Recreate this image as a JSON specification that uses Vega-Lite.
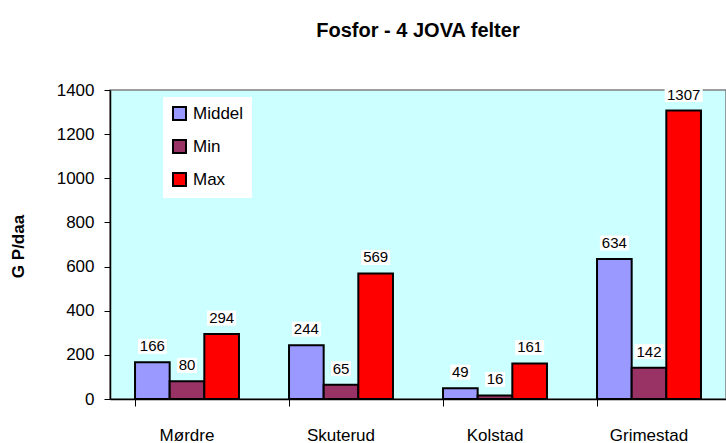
{
  "$schema": "https://vega.github.io/schema/vega-lite/v6.json",
  "autosize": {"type": "none"},
  "width": 616,
  "height": 309,
  "padding": {"left": 110, "top": 90, "right": 0, "bottom": 44},
  "background": "white",
  "config": {
    "font": "Liberation Sans",
    "view": {"fill": "#CCFFFF", "stroke": "#808080", "strokeWidth": 1.5},
    "title": {"fontSize": 20, "fontWeight": "bold", "color": "black", "anchor": "middle", "offset": 40}
  },
  "title": "Fosfor - 4 JOVA felter",
  "data": {
    "values": [
      {"site": "Mørdre", "series": "Middel", "value": 166},
      {"site": "Mørdre", "series": "Min", "value": 80},
      {"site": "Mørdre", "series": "Max", "value": 294},
      {"site": "Skuterud", "series": "Middel", "value": 244},
      {"site": "Skuterud", "series": "Min", "value": 65},
      {"site": "Skuterud", "series": "Max", "value": 569},
      {"site": "Kolstad", "series": "Middel", "value": 49},
      {"site": "Kolstad", "series": "Min", "value": 16},
      {"site": "Kolstad", "series": "Max", "value": 161},
      {"site": "Grimestad", "series": "Middel", "value": 634},
      {"site": "Grimestad", "series": "Min", "value": 142},
      {"site": "Grimestad", "series": "Max", "value": 1307}
    ]
  },
  "encoding": {
    "x": {
      "field": "site", "type": "nominal", "sort": null,
      "scale": {"paddingInner": 0.325, "paddingOuter": 0.1625},
      "axis": {
        "title": null, "labelAngle": 0, "labelFontSize": 17, "labelColor": "black",
        "domainColor": "black", "domainWidth": 1.5, "tickColor": "black", "tickSize": 7,
        "bandPosition": 0, "labelPadding": 21, "grid": false
      }
    },
    "xOffset": {"field": "series", "type": "nominal", "sort": ["Middel", "Min", "Max"], "scale": {"paddingInner": 0, "paddingOuter": 0}},
    "y": {
      "field": "value", "type": "quantitative",
      "scale": {"domain": [0, 1400], "nice": false},
      "axis": {
        "title": "G P/daa", "titleFontSize": 17, "titleFontWeight": "bold", "titleColor": "black",
        "titleX": -92, "titleY": 156, "titleAngle": -90, "titleBaseline": "middle", "titleAlign": "center",
        "values": [0, 200, 400, 600, 800, 1000, 1200, 1400], "format": "d",
        "labelFontSize": 17, "labelColor": "black", "labelPadding": 10,
        "domainColor": "black", "domainWidth": 1.5, "tickColor": "black", "tickSize": 6, "grid": false
      }
    }
  },
  "layer": [
    {
      "mark": {"type": "bar", "stroke": "black", "strokeWidth": 2},
      "encoding": {
        "color": {
          "field": "series", "type": "nominal",
          "scale": {"domain": ["Middel", "Min", "Max"], "range": ["#9999FF", "#993366", "#FF0000"]},
          "legend": {
            "title": null, "orient": "none", "legendX": 53, "legendY": 7,
            "fillColor": "white", "padding": 8, "symbolType": "square", "symbolSize": 169,
            "symbolStrokeColor": "black", "symbolStrokeWidth": 2, "symbolOpacity": 1,
            "labelFontSize": 17, "labelColor": "black", "labelOffset": 5, "rowPadding": 12
          }
        }
      }
    },
    {
      "mark": {"type": "point", "filled": true, "fill": "white", "opacity": 1, "strokeWidth": 0, "yOffset": -16},
      "encoding": {
        "shape": {
          "condition": [
            {"test": "datum.value >= 1000", "value": "M-1,-0.395H1V0.395H-1Z"},
            {"test": "datum.value < 100", "value": "M-1,-0.75H1V0.75H-1Z"}
          ],
          "value": "M-1,-0.517H1V0.517H-1Z"
        },
        "size": {
          "condition": [
            {"test": "datum.value >= 1000", "value": 1444},
            {"test": "datum.value < 100", "value": 400}
          ],
          "value": 841
        }
      }
    },
    {
      "mark": {"type": "text", "fontSize": 15, "color": "black", "baseline": "middle", "yOffset": -16},
      "encoding": {
        "text": {"field": "value", "type": "quantitative", "format": "d"}
      }
    }
  ]
}
